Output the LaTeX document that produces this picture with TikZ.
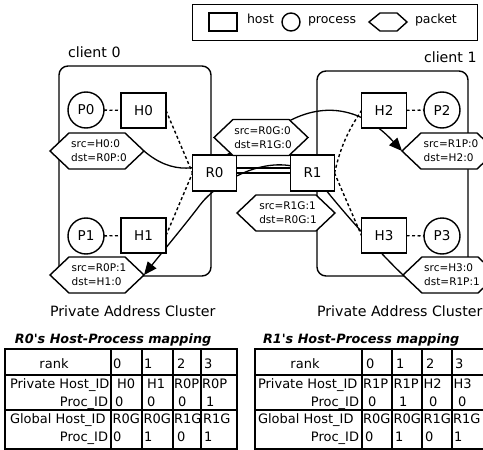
\documentclass[tikz,border=0pt]{standalone}
\usepackage{fontspec}
\setmainfont{DejaVu Sans}
\newfontfamily\plainfont{DejaVu Sans}
\usetikzlibrary{arrows.meta}
\pgfdeclarelayer{back}
\pgfdeclarelayer{mid}
\pgfsetlayers{back,mid,main}
\newcommand\mypkt[5]{%
  \path[pktshape] (#2-#4,#3) -- (#2-#4+19,#3-18) -- (#2+#4-19,#3-18) -- (#2+#4,#3) -- (#2+#4-19,#3+18) -- (#2-#4+19,#3+18) -- cycle;
  \node[pkttext] (#1) at (#2+2,#3) {#5};}
\begin{document}
\begin{tikzpicture}[x=1pt,y=-1pt,
  every node/.style={inner sep=0pt,outer sep=0pt},
  lab/.style={font=\fontsize{14.2}{16}\selectfont},
  lgtext/.style={font=\fontsize{12.5}{15}\selectfont,anchor=base west},
  hostbox/.style={draw,line width=1.4pt,fill=white,minimum width=45pt,minimum height=35pt,font=\fontsize{13.5}{16}\selectfont},
  proc/.style={draw,circle,line width=1.4pt,fill=white,minimum size=36pt,font=\fontsize{13.5}{16}\selectfont},
  cluster/.style={draw,line width=1.4pt,rounded corners=9pt},
  pktshape/.style={draw,fill=white,line width=1.4pt},
  pkttext/.style={align=left,font=\fontsize{10.5}{14}\selectfont},
  dashlink/.style={line width=1.4pt,dash pattern=on 3pt off 2.5pt},
  route/.style={line width=1.3pt},
  arr/.style={-{Triangle[length=13pt,width=11pt]}},
  tabline/.style={line width=1.2pt},
  thickline/.style={line width=2pt},
  tt/.style={font=\fontsize{13}{16}\selectfont,anchor=base west},
  ttr/.style={font=\fontsize{13}{16}\selectfont,anchor=base east},
  ttc/.style={font=\fontsize{13}{16}\selectfont,anchor=base},
  ttitle/.style={font=\plainfont\fontsize{12.8}{15}\selectfont\bfseries\itshape,anchor=base west}
]
\useasboundingbox (0,0) rectangle (483,450);
\clip (0,0) rectangle (483,450);

% legend
\draw[line width=1pt] (192,4) rectangle (477,40);
\node[draw,line width=1.4pt,minimum width=28pt,minimum height=18pt] (lgH) at (223,22) {};
\node[lgtext] (lgt1) at (247,23) {host};
\node[draw,circle,line width=1.4pt,minimum size=18pt] (lgP) at (291,22) {};
\node[lgtext] (lgt2) at (308,23) {process};
\draw[line width=1.4pt] (369,22) -- (380,13) -- (397,13) -- (407,22) -- (397,31) -- (380,31) -- cycle;
\node[lgtext] (lgt3) at (415,23) {packet};

% labels
\node[lab,anchor=base west] (c0) at (68,57) {client 0};
\node[lab,anchor=base west] (c1) at (424,62) {client 1};
\node[lab,anchor=base west] (pac0) at (50,316) {Private Address Cluster};
\node[lab,anchor=base west] (pac1) at (317,316) {Private Address Cluster};

% clusters
\begin{pgfonlayer}{back}
\draw[cluster] (59,66) rectangle (211,276);
\draw[cluster] (317,71) rectangle (468,276);
\end{pgfonlayer}

% hosts, routers, processes
\node[hostbox] (H0) at (143.5,110.5) {H0};
\node[hostbox] (H1) at (143.5,235.5) {H1};
\node[hostbox] (H2) at (384,110.5) {H2};
\node[hostbox] (H3) at (384,235.5) {H3};
\node[hostbox,minimum width=44pt,minimum height=36pt] (R0) at (214.5,173) {R0};
\node[hostbox,minimum width=44pt,minimum height=36pt] (R1) at (312.5,173) {R1};
\node[proc] (P0) at (86,110) {P0};
\node[proc] (P1) at (86,236) {P1};
\node[proc] (P2) at (442,110) {P2};
\node[proc] (P3) at (442,236) {P3};

% packets
\mypkt{k1}{97}{151}{47}{src=H0:0\\dst=R0P:0}
\mypkt{k2}{261}{137.5}{47}{src=R0G:0\\dst=R1G:0}
\mypkt{k3}{286}{213}{49}{src=R1G:1\\dst=R0G:1}
\mypkt{k4}{449}{151}{47}{src=R1P:0\\dst=H2:0}
\mypkt{k5}{97}{275}{47}{src=R0P:1\\dst=H1:0}
\mypkt{k6}{450}{275}{47}{src=H3:0\\dst=R1P:1}

\coordinate (k1e) at (144,151);
\coordinate (k2sw) at (230,153);
\coordinate (k2ne) at (290,120.5);
\coordinate (k4w) at (402,151);
\coordinate (k5e) at (144,275);
\coordinate (k6w) at (403,275);

\begin{pgfonlayer}{mid}
\draw[dashlink] (P0) -- (H0);
\draw[dashlink] (P1) -- (H1);
\draw[dashlink] (H2) -- (P2);
\draw[dashlink] (H3) -- (P3);
\draw[dashlink] (H0.east) -- (R0.west);
\draw[dashlink] (H1.east) -- (R0.west);
\draw[dashlink] (R1.east) to[bend left=10] (H2.west);
\draw[dashlink] (R1.east) -- (H3.west);
\draw[route] ([yshift=5pt]R0.east) -- ([yshift=5pt]R1.west);
\draw[route] (R0.east) -- (R1.west);
\draw[route] (k1e) .. controls (172,175) and (200,172) .. (k2sw);
\draw[route,arr] (k2ne) .. controls (330,100) and (366,112) .. (k4w);
\draw[route,arr] (k6w) .. controls (385,258) and (345,215) .. (318,180) -- (300,168)
  .. controls (260,155) and (215,185) .. (200,205) .. controls (188,221) and (160,255) .. (k5e);
\end{pgfonlayer}

% R0 table
\node[ttitle] (ti0) at (15,343) {R0's Host-Process mapping};
\draw[tabline] (5,349) rectangle (237,449);
\draw[tabline] (5,375) -- (237,375);
\draw[thickline] (5,410) -- (237,410);
\foreach \xx in {111,142,173,201} \draw[tabline] (\xx,349) -- (\xx,449);
\node[ttc] (a00) at (54,368) {rank};
\node[tt] (a01) at (113,368) {0};
\node[tt] (a02) at (144,368) {1};
\node[tt] (a03) at (177,368) {2};
\node[tt] (a04) at (204,368) {3};
\node[tt] (a10) at (10,388) {Private Host\_ID};
\node[tt] (a11) at (117,388) {H0};
\node[tt] (a12) at (147,388) {H1};
\node[tt] (a13) at (174,388) {R0P};
\node[tt] (a14) at (202,388) {R0P};
\node[ttr] (a20) at (108,406) {Proc\_ID};
\node[tt] (a21) at (115,406) {0};
\node[tt] (a22) at (147,406) {0};
\node[tt] (a23) at (178,406) {0};
\node[tt] (a24) at (206,406) {1};
\node[tt] (a30) at (10,423) {Global Host\_ID};
\node[tt] (a31) at (112.5,423) {R0G};
\node[tt] (a32) at (143.5,423) {R0G};
\node[tt] (a33) at (174,423) {R1G};
\node[tt] (a34) at (203,423) {R1G};
\node[ttr] (a40) at (108,441) {Proc\_ID};
\node[tt] (a41) at (113,441) {0};
\node[tt] (a42) at (144,441) {1};
\node[tt] (a43) at (177,441) {0};
\node[tt] (a44) at (204,441) {1};

% R1 table
\node[ttitle] (ti1) at (263,343) {R1's Host-Process mapping};
\draw[tabline] (490,349) -- (255,349) -- (255,449) -- (490,449);
\draw[tabline] (255,375) -- (490,375);
\draw[thickline] (255,410) -- (490,410);
\foreach \xx in {362,392,422,452} \draw[tabline] (\xx,349) -- (\xx,449);
\node[ttc] (b00) at (305,368) {rank};
\node[tt] (b01) at (366,368) {0};
\node[tt] (b02) at (396,368) {1};
\node[tt] (b03) at (426,368) {2};
\node[tt] (b04) at (455,368) {3};
\node[tt] (b10) at (258,388) {Private Host\_ID};
\node[tt] (b11) at (363,388) {R1P};
\node[tt] (b12) at (393.5,388) {R1P};
\node[tt] (b13) at (423.5,388) {H2};
\node[tt] (b14) at (453.5,388) {H3};
\node[ttr] (b20) at (359,406) {Proc\_ID};
\node[tt] (b21) at (368,406) {0};
\node[tt] (b22) at (399,406) {1};
\node[tt] (b23) at (429,406) {0};
\node[tt] (b24) at (458,406) {0};
\node[tt] (b30) at (258,423) {Global Host\_ID};
\node[tt] (b31) at (363,423) {R0G};
\node[tt] (b32) at (393.5,423) {R0G};
\node[tt] (b33) at (423.5,423) {R1G};
\node[tt] (b34) at (453,423) {R1G};
\node[ttr] (b40) at (359,441) {Proc\_ID};
\node[tt] (b41) at (365,441) {0};
\node[tt] (b42) at (395,441) {1};
\node[tt] (b43) at (425,441) {0};
\node[tt] (b44) at (454,441) {1};
\end{tikzpicture}
\end{document}
